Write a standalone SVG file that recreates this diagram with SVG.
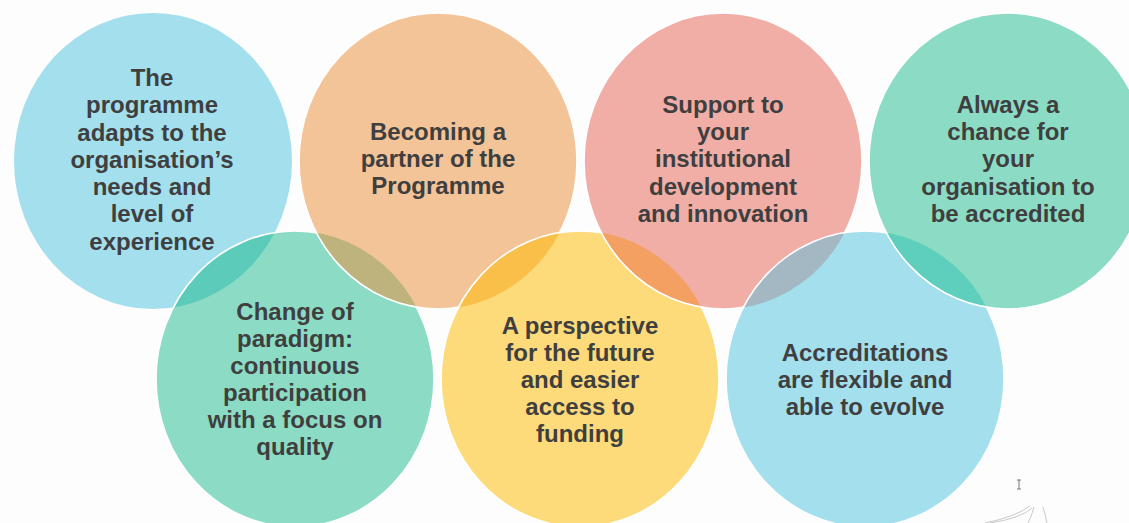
<svg xmlns="http://www.w3.org/2000/svg" width="1129" height="523" viewBox="0 0 1129 523">
<style>
.t{font-family:"Liberation Sans",Arial,sans-serif;font-weight:bold;font-size:24px;fill:#3f3f3f;text-anchor:middle}
.edge{fill:none;stroke:#ffffff;stroke-width:1.6}
</style>
<defs>
<clipPath id="cBlue"><ellipse cx="153" cy="161" rx="139" ry="148"/></clipPath>
<clipPath id="cTeal"><ellipse cx="295" cy="379" rx="139" ry="148"/></clipPath>
<clipPath id="cOrange"><ellipse cx="438" cy="161" rx="139" ry="148"/></clipPath>
<clipPath id="cYellow"><ellipse cx="580" cy="379" rx="139" ry="148"/></clipPath>
<clipPath id="cPink"><ellipse cx="723" cy="161" rx="139" ry="148"/></clipPath>
<clipPath id="cLblue"><ellipse cx="865" cy="379" rx="139" ry="148"/></clipPath>
</defs>
<rect width="1129" height="523" fill="#fdfdfd"/>

<g id="node-blue">
<ellipse cx="153" cy="161" rx="139" ry="148" fill="#a4dfee"/>
</g>
<g id="node-teal">
<ellipse cx="295" cy="379" rx="139" ry="148" fill="#8cdcc5"/>
<ellipse cx="295" cy="379" rx="139" ry="148" fill="#5dcbb9" clip-path="url(#cBlue)"/>
<ellipse class="edge" cx="295" cy="379" rx="139" ry="148"/>
</g>
<g id="node-orange">
<ellipse cx="438" cy="161" rx="139" ry="148" fill="#f4c499"/>
<ellipse cx="438" cy="161" rx="139" ry="148" fill="#bfb37d" clip-path="url(#cTeal)"/>
<ellipse class="edge" cx="438" cy="161" rx="139" ry="148"/>
</g>
<g id="node-yellow">
<ellipse cx="580" cy="379" rx="139" ry="148" fill="#fddb7a"/>
<ellipse cx="580" cy="379" rx="139" ry="148" fill="#f9bf48" clip-path="url(#cOrange)"/>
<ellipse class="edge" cx="580" cy="379" rx="139" ry="148"/>
</g>
<g id="node-pink">
<ellipse cx="723" cy="161" rx="139" ry="148" fill="#f1aea6"/>
<ellipse cx="723" cy="161" rx="139" ry="148" fill="#f3a062" clip-path="url(#cYellow)"/>
<ellipse class="edge" cx="723" cy="161" rx="139" ry="148"/>
</g>
<g id="node-lightblue">
<ellipse cx="865" cy="379" rx="139" ry="148" fill="#a4dfee"/>
<ellipse cx="865" cy="379" rx="139" ry="148" fill="#a3b8c3" clip-path="url(#cPink)"/>
<ellipse class="edge" cx="865" cy="379" rx="139" ry="148"/>
</g>
<g id="node-green">
<ellipse cx="1008" cy="161" rx="139" ry="148" fill="#8cdcc5"/>
<ellipse cx="1008" cy="161" rx="139" ry="148" fill="#5ecfbc" clip-path="url(#cLblue)"/>
<ellipse class="edge" cx="1008" cy="161" rx="139" ry="148"/>
</g>

<g id="connectors"></g>

<g id="labels">
<text class="t" x="152" y="86">The</text>
<text class="t" x="152" y="113">programme</text>
<text class="t" x="152" y="141">adapts to the</text>
<text class="t" x="152" y="168">organisation’s</text>
<text class="t" x="152" y="195">needs and</text>
<text class="t" x="152" y="222">level of</text>
<text class="t" x="152" y="250">experience</text>

<text class="t" x="438" y="140">Becoming a</text>
<text class="t" x="438" y="167">partner of the</text>
<text class="t" x="438" y="194">Programme</text>

<text class="t" x="723" y="113">Support to</text>
<text class="t" x="723" y="140">your</text>
<text class="t" x="723" y="167">institutional</text>
<text class="t" x="723" y="195">development</text>
<text class="t" x="723" y="222">and innovation</text>

<text class="t" x="1008" y="113">Always a</text>
<text class="t" x="1008" y="140">chance for</text>
<text class="t" x="1008" y="167">your</text>
<text class="t" x="1008" y="195">organisation to</text>
<text class="t" x="1008" y="222">be accredited</text>

<text class="t" x="295" y="320">Change of</text>
<text class="t" x="295" y="347">paradigm:</text>
<text class="t" x="295" y="374">continuous</text>
<text class="t" x="295" y="401">participation</text>
<text class="t" x="295" y="428">with a focus on</text>
<text class="t" x="295" y="455">quality</text>

<text class="t" x="580" y="334">A perspective</text>
<text class="t" x="580" y="361">for the future</text>
<text class="t" x="580" y="388">and easier</text>
<text class="t" x="580" y="415">access to</text>
<text class="t" x="580" y="442">funding</text>

<text class="t" x="865" y="361">Accreditations</text>
<text class="t" x="865" y="388">are flexible and</text>
<text class="t" x="865" y="415">able to evolve</text>
</g>

<g id="cursor" stroke="#777" stroke-width="1" fill="none">
<path d="M1017 480h4M1019 480v9M1017 489h4"/>
</g>
<g id="corner" stroke="#bbb" stroke-width="0.8" fill="none">
<path d="M985 523q30-6 45-17M990 523q32-5 42-15M1028 523q4-8 6-16M1047 523q-2-10-4-16"/>
</g>
</svg>
